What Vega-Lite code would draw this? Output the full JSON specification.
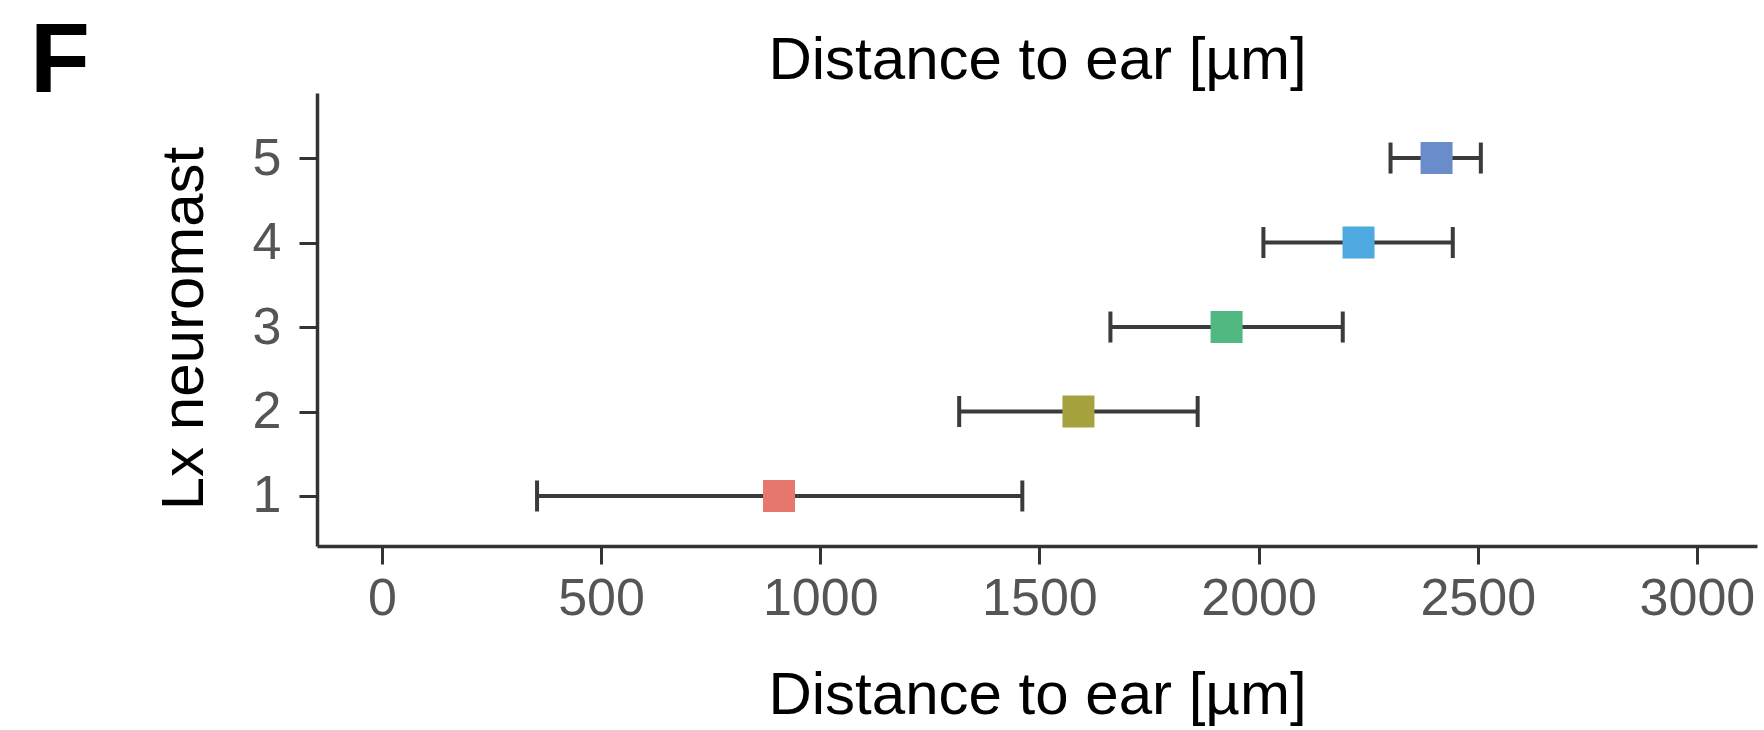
{
  "$schema": "https://vega.github.io/schema/vega-lite/v6.json",
  "autosize": "none",
  "width": 1440,
  "height": 453,
  "padding": {"left": 317, "top": 93, "right": 7, "bottom": 184},
  "background": "white",
  "title": {
    "text": "F",
    "anchor": "start",
    "frame": "group",
    "fontSize": 98,
    "fontWeight": "bold",
    "font": "Liberation Sans",
    "color": "#000000",
    "baseline": "alphabetic",
    "dx": -287,
    "dy": 160,
    "offset": 0
  },
  "data": {
    "values": [
      {"neuromast": 1, "mean": 906, "lo": 354, "hi": 1461},
      {"neuromast": 2, "mean": 1589, "lo": 1317, "hi": 1861},
      {"neuromast": 3, "mean": 1927, "lo": 1662, "hi": 2192},
      {"neuromast": 4, "mean": 2228, "lo": 2011, "hi": 2443},
      {"neuromast": 5, "mean": 2406, "lo": 2301, "hi": 2507}
    ]
  },
  "encoding": {
    "y": {
      "field": "neuromast",
      "type": "quantitative",
      "scale": {"domain": [0.408, 5.77], "nice": false, "zero": false},
      "axis": {
        "title": "Lx neuromast",
        "values": [1, 2, 3, 4, 5],
        "format": "d",
        "grid": false,
        "tickSize": 18,
        "tickWidth": 3,
        "tickColor": "#333333",
        "domainColor": "#333333",
        "domainWidth": 3.5,
        "labelFontSize": 52,
        "labelFont": "Liberation Sans",
        "labelColor": "#555555",
        "labelPadding": 18,
        "titleFontSize": 60,
        "titleFont": "Liberation Sans",
        "titleFontWeight": "normal",
        "titleColor": "#000000",
        "titlePadding": 37,
        "titleY": 235
      }
    }
  },
  "layer": [
    {
      "mark": {"type": "errorbar", "ticks": {"opacity": 1, "color": "#3b3b3b"}, "thickness": 4, "size": 31, "color": "#3b3b3b"},
      "encoding": {
        "x": {
          "field": "lo",
          "type": "quantitative",
          "scale": {"domain": [-148, 3137], "nice": false, "zero": false},
          "axis": {
            "orient": "bottom",
            "title": "Distance to ear [µm]",
            "values": [0, 500, 1000, 1500, 2000, 2500, 3000],
            "format": "d",
            "grid": false,
            "tickSize": 18,
            "tickWidth": 3,
            "tickColor": "#333333",
            "domainColor": "#333333",
            "domainWidth": 3.5,
            "labelFontSize": 52,
            "labelFont": "Liberation Sans",
            "labelColor": "#555555",
            "labelPadding": 9,
            "titleFontSize": 60,
            "titleFont": "Liberation Sans",
            "titleFontWeight": "normal",
            "titleColor": "#000000",
            "titlePadding": 42
          }
        },
        "x2": {"field": "hi"}
      }
    },
    {
      "mark": {"type": "square", "size": 1024, "filled": true, "opacity": 1},
      "encoding": {
        "x": {
          "field": "mean",
          "type": "quantitative",
          "axis": {
            "orient": "top",
            "title": "Distance to ear [µm]",
            "labels": false,
            "ticks": false,
            "domain": false,
            "grid": false,
            "titleFontSize": 60,
            "titleFont": "Liberation Sans",
            "titleFontWeight": "normal",
            "titleColor": "#000000",
            "titlePadding": 2
          }
        },
        "color": {
          "field": "neuromast",
          "type": "nominal",
          "scale": {"domain": [1, 2, 3, 4, 5], "range": ["#E6776C", "#A6A33F", "#52B882", "#4DA9DF", "#6B8CCB"]},
          "legend": null
        }
      }
    }
  ],
  "resolve": {"axis": {"x": "independent"}},
  "config": {"view": {"stroke": null}}
}
